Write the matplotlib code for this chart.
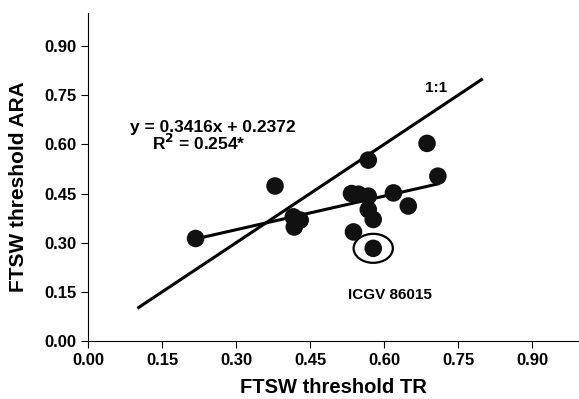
import matplotlib
matplotlib.use('Agg')
import matplotlib.pyplot as plt
from matplotlib.patches import Ellipse

plt.rcParams['font.family'] = ['Liberation Sans', 'DejaVu Sans']
plt.rcParams['font.weight'] = 'bold'

# FTSW thresholds
tr = [0.218, 0.379, 0.416, 0.430, 0.418, 0.534, 0.548, 0.568, 0.568, 0.568,
      0.578, 0.538, 0.578, 0.619, 0.649, 0.687, 0.709]
ara = [0.313, 0.473, 0.379, 0.369, 0.348, 0.450, 0.448, 0.552, 0.442, 0.401,
       0.371, 0.333, 0.283, 0.452, 0.412, 0.603, 0.503]

slope = 0.3416
intercept = 0.2372
fit_x = [0.218, 0.709]
one_x = [0.1, 0.8]
outlier = (0.578, 0.283)
ticks = [0.00, 0.15, 0.30, 0.45, 0.60, 0.75, 0.90]

fig = plt.figure(figsize=(5.79, 3.99), dpi=100)
ax = fig.add_axes([0.152, 0.145, 0.848, 0.822])

ax.plot(one_x, one_x, color='black', lw=2.2, solid_capstyle='butt')
ax.plot(fit_x, [slope * v + intercept for v in fit_x], color='black', lw=2.2)
ax.scatter(tr, ara, s=160, color='#111111', zorder=3, edgecolors='none')
ax.add_patch(Ellipse(outlier, 0.0795, 0.0884, fill=False, lw=1.6, color='black'))

ax.text(0.705, 0.771, '1:1', ha='center', va='center', fontsize=11, fontweight='bold')
ax.text(0.085, 0.638, 'y = 0.3416x + 0.2372', ha='left', va='baseline',
        fontsize=12.5, fontweight='bold')
ax.text(0.130, 0.582, r'R$^\mathbf{2}$ = 0.254*', ha='left', va='baseline',
        fontsize=12.5, fontweight='bold')
ax.text(0.611, 0.140, 'ICGV 86015', ha='center', va='center', fontsize=11, fontweight='bold')

ax.set_xlim(0, 0.995)
ax.set_ylim(0, 1.0)
ax.set_xticks(ticks)
ax.set_yticks(ticks)
ax.set_xticklabels(['%.2f' % t for t in ticks])
ax.set_yticklabels(['%.2f' % t for t in ticks])
ax.tick_params(direction='out', length=5, width=0.8, labelsize=12)
for s in ['top', 'right']:
    ax.spines[s].set_visible(False)
for s in ['left', 'bottom']:
    ax.spines[s].set_linewidth(0.8)

ax.set_xlabel('FTSW threshold TR', fontsize=14.5, fontweight='bold', labelpad=7)
ax.set_ylabel('FTSW threshold ARA', fontsize=15, fontweight='bold')
ax.yaxis.set_label_coords(-0.122, 0.4726)

fig.savefig('out.png', dpi=100)
